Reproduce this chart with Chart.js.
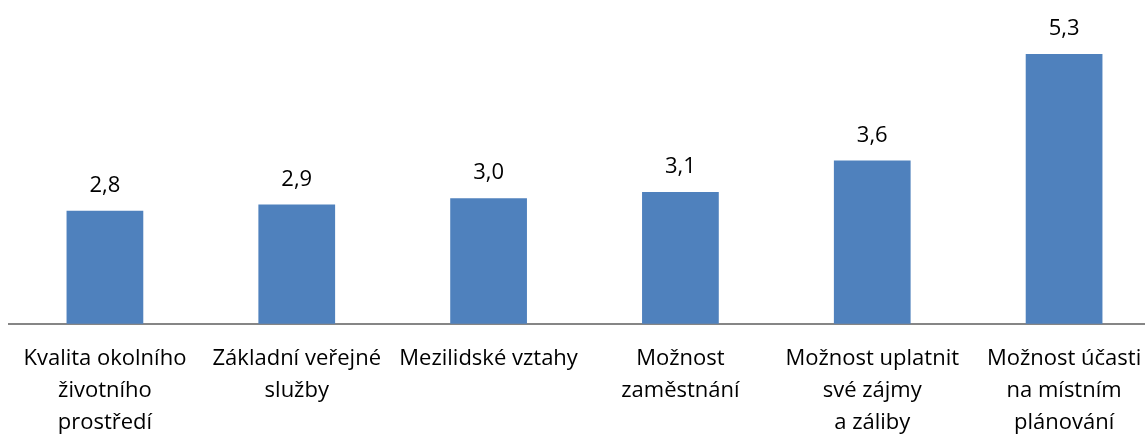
<!DOCTYPE html>
<html>
<head>
<meta charset="utf-8">
<script src="https://cdn.jsdelivr.net/npm/chart.js@4"></script>
<style>
  html, body { margin: 0; padding: 0; background: #fff; overflow: hidden; }
  #wrap { width: 1162px; height: 436px; position: relative; }
</style>
</head>
<body>
<div id="wrap"><canvas id="myBarChart"></canvas></div>
<script>
// categories (each label split into its lines)
const categories = [
    ['Kvalita okolního', 'životního', 'prostředí'],
    ['Základní veřejné', 'služby'],
    ['Mezilidské vztahy'],
    ['Možnost', 'zaměstnání'],
    ['Možnost uplatnit', 'své zájmy', 'a záliby'],
    ['Možnost účasti', 'na místním', 'plánování']
]
const values = [2.8, 2.9, 3.0, 3.1, 3.6, 5.3]

const fontFamily = '"Open Sans", sans-serif'

// draws the "2,8" style numbers above each bar
const valueLabels = {
    id: 'valueLabels',
    afterDatasetsDraw(chart) {
        const ctx = chart.ctx
        const meta = chart.getDatasetMeta(0)
        ctx.save()
        ctx.font = '22px ' + fontFamily
        ctx.fillStyle = '#000'
        ctx.textAlign = 'center'
        ctx.textBaseline = 'middle'
        meta.data.forEach((bar, i) => {
            ctx.fillText(values[i].toFixed(1).replace('.', ','), bar.x, bar.y - 25)
        })
        ctx.restore()
    }
}

var myBarChart = new Chart(document.getElementById('myBarChart'), {
    type: 'bar',
    data: {
        labels: categories,
        datasets: [
            {
                data: values,
                backgroundColor: '#4F81BD',
                categoryPercentage: 1,
                barPercentage: 0.4
            }
        ]
    },
    options: {
        responsive: true,
        maintainAspectRatio: false,
        animation: false,
        layout: { padding: { left: 9, right: 2, top: 10, bottom: -22 } },
        plugins: {
            legend: { display: false },
            tooltip: { enabled: false }
        },
        scales: {
            x: {
                grid: { display: false, drawTicks: false },
                border: { display: true, color: '#868686', width: 2 },
                ticks: {
                    color: '#000',
                    font: { family: fontFamily, size: 22, lineHeight: 1.46 },
                    maxRotation: 0,
                    autoSkip: false,
                    padding: 19
                }
            },
            y: {
                display: false,
                min: 1,
                max: 6
            }
        }
    },
    plugins: [valueLabels]
});
</script>
</body>
</html>
